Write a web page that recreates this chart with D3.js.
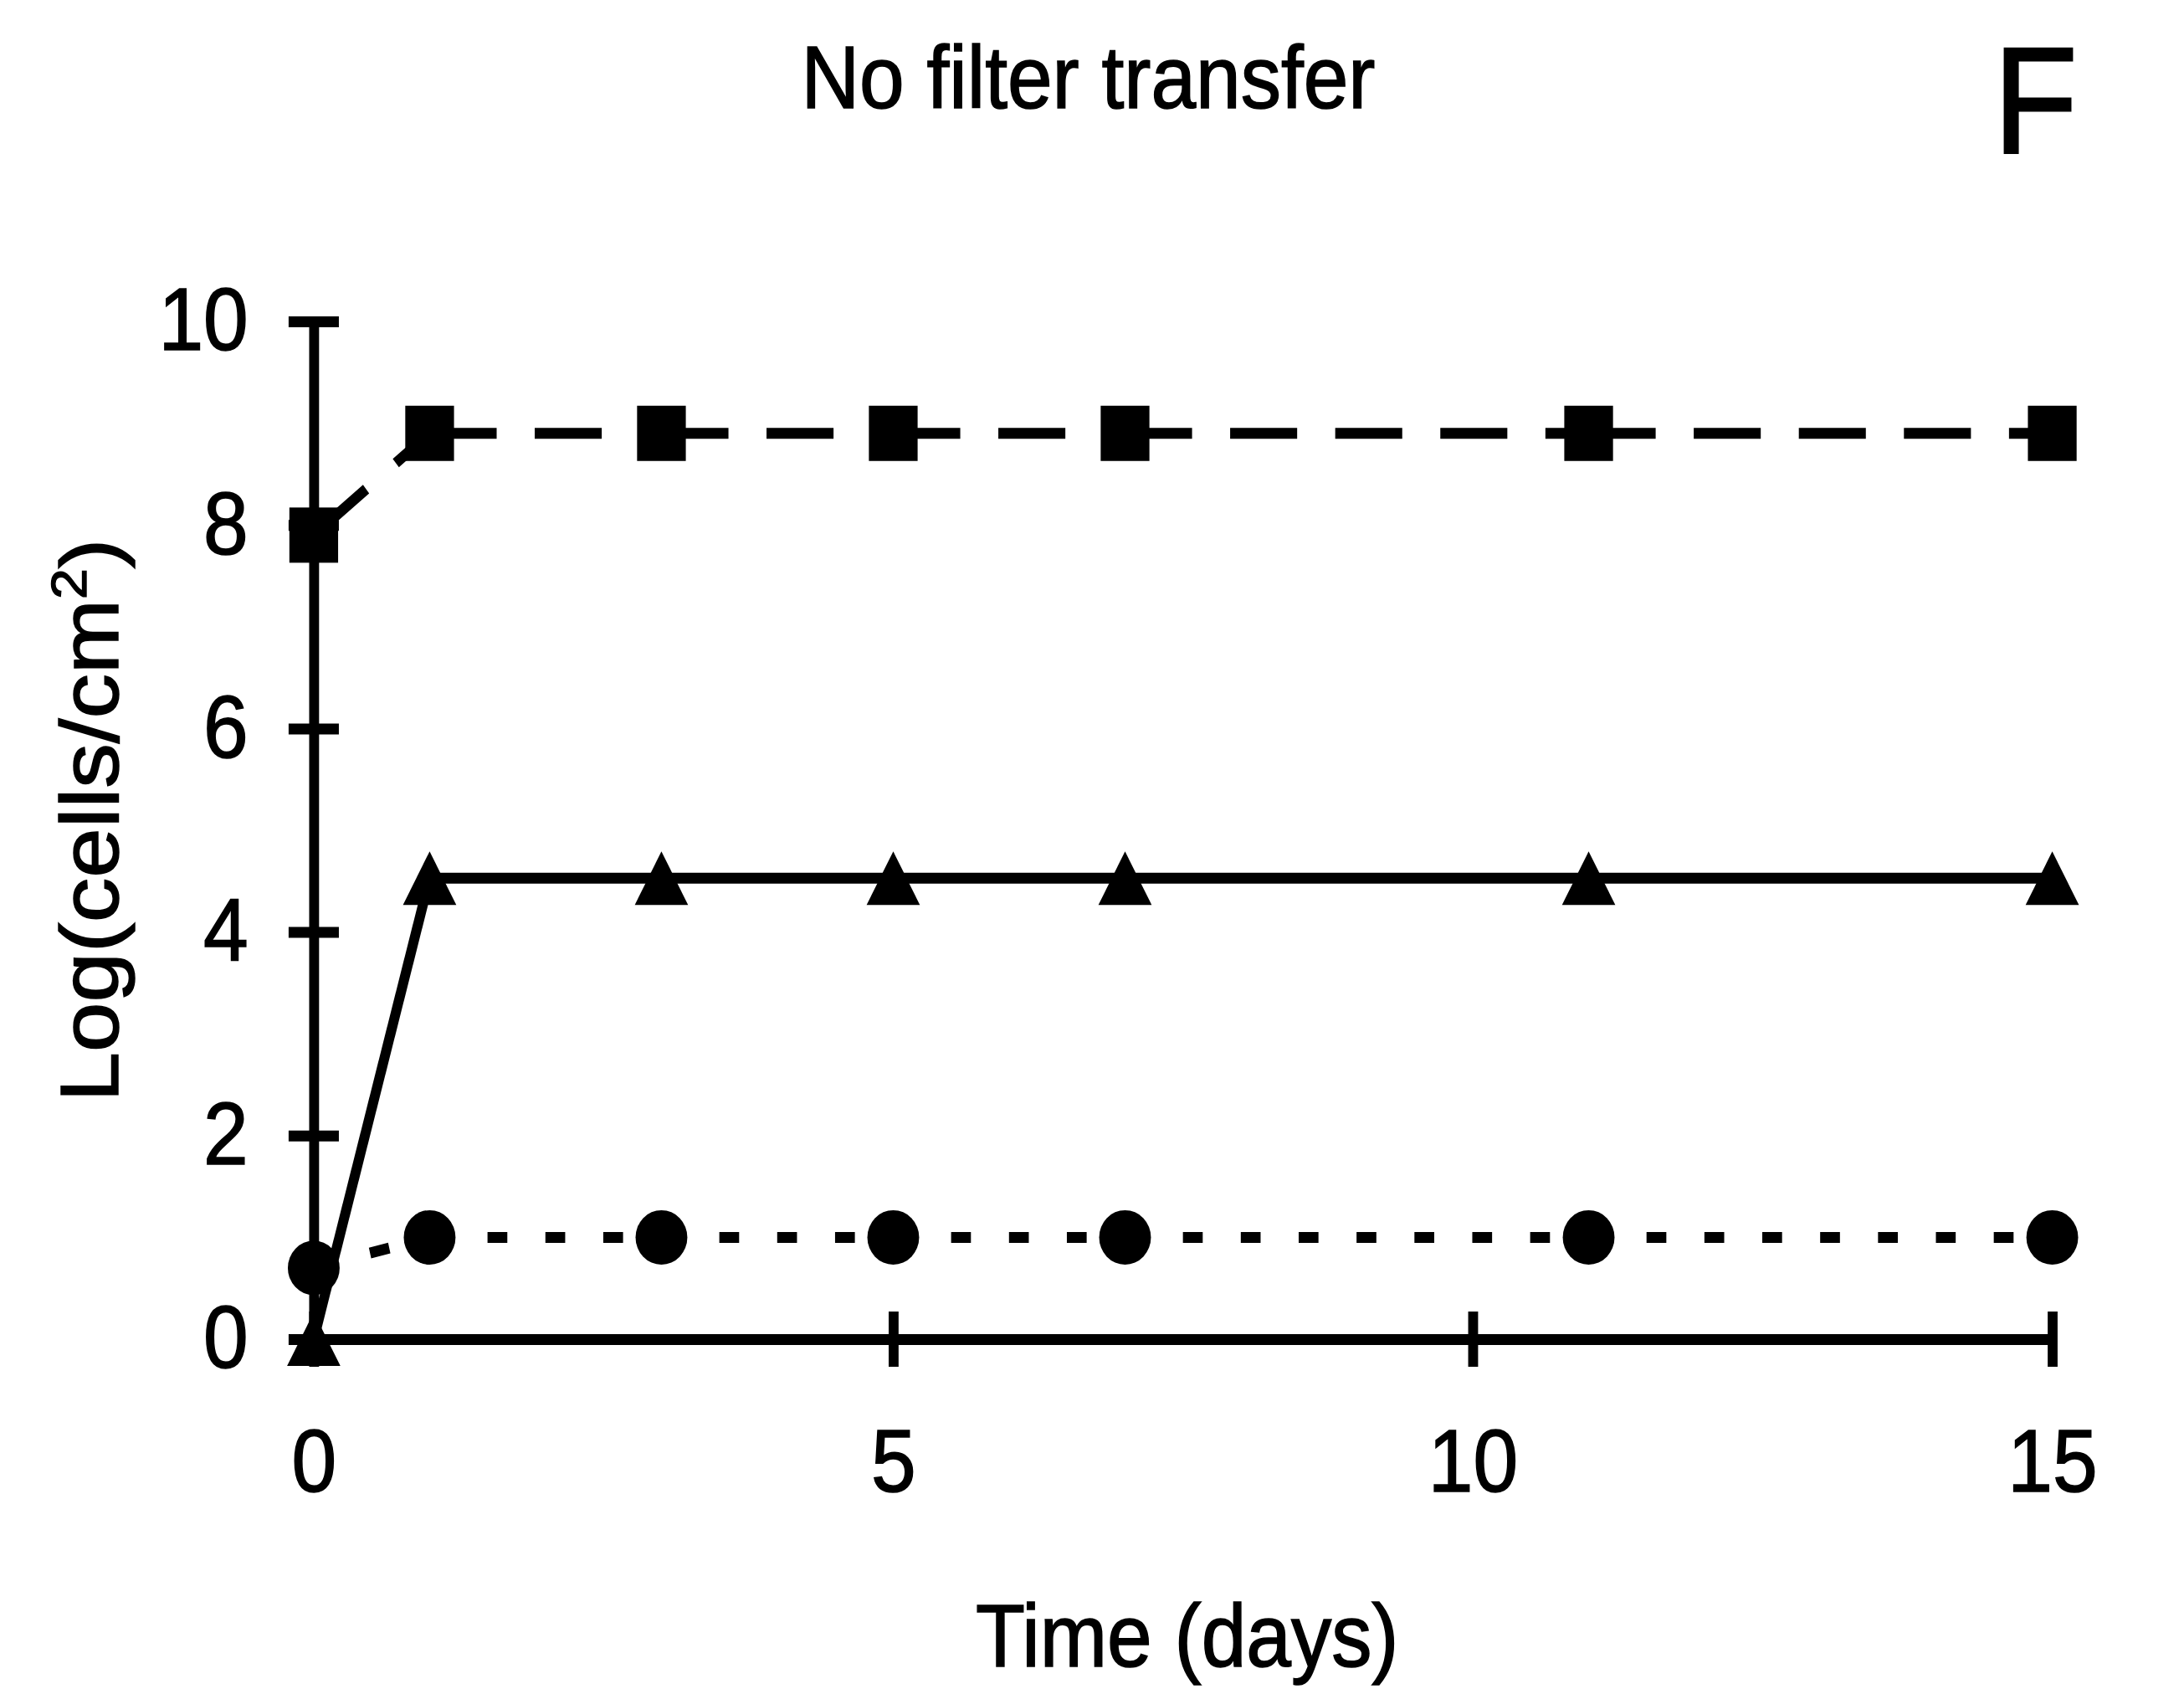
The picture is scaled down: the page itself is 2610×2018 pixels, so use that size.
<!DOCTYPE html>
<html>
<head>
<meta charset="utf-8">
<script src="https://cdn.jsdelivr.net/npm/d3@7"></script>
<style>
	body { margin: 0; background: #fff; }
	text { font-family: "Liberation Sans", Arial, sans-serif; fill: #000; stroke: #000; stroke-width: 1.6; }
</style>
</head>
<body>
<svg id="chart"></svg>
<script>
// Sampling days and the log cell counts of the three series.
var days = [0, 1, 3, 5, 7, 11, 15];
var squareValues = [7.9, 8.9, 8.9, 8.9, 8.9, 8.9, 8.9];
var triangleValues = [0, 4.53, 4.53, 4.53, 4.53, 4.53, 4.53];
var circleValues = [0.7, 1, 1, 1, 1, 1, 1];
var xTicks = [0, 5, 10, 15];
var yTicks = [0, 2, 4, 6, 8, 10];

var width = 2610, height = 2018;
// The original figure is squeezed horizontally, so draw in a wider space and let the viewBox squash it.
var viewWidth = 2868;

var svg = d3.select('#chart')
	.attr('width', width)
	.attr('height', height)
	.attr('viewBox', '0 0 ' + viewWidth + ' ' + height)
	.attr('preserveAspectRatio', 'none');

var x = d3.scaleLinear().domain([0, 15]).range([412, 2695]);
var y = d3.scaleLinear().domain([0, 10]).range([1600, 384]);

var stroke = 13;
var tickHalf = 33;

// Axes, with ticks that cross the axis line.
var yAxis = svg.append('g')
	.attr('transform', 'translate(' + x(0) + ',0)')
	.call(d3.axisLeft(y).tickValues(yTicks).tickSize(tickHalf).tickSizeOuter(0).tickPadding(53));
yAxis.selectAll('.tick line').attr('x1', tickHalf).attr('x2', -tickHalf);

var xAxis = svg.append('g')
	.attr('transform', 'translate(0,' + y(0) + ')')
	.call(d3.axisBottom(x).tickValues(xTicks).tickSize(tickHalf).tickSizeOuter(0).tickPadding(74));
xAxis.selectAll('.tick line').attr('y1', -tickHalf).attr('y2', tickHalf);

svg.selectAll('.domain, .tick line')
	.attr('stroke', '#000')
	.attr('stroke-width', stroke);
svg.selectAll('.tick text')
	.attr('font-size', 106)
	.attr('font-family', '"Liberation Sans", Arial, sans-serif')
	.attr('fill', '#000');

// Each segment is its own path so the dash pattern restarts at every point, as in the original.
var line = d3.line()
	.x(function(d) { return x(d[0]); })
	.y(function(d) { return y(d[1]); });

function drawSeries(values, dash) {
	var points = days.map(function(day, i) { return [day, values[i]]; });
	var segments = d3.pairs(points);
	svg.append('g').selectAll('path')
		.data(segments)
		.join('path')
		.attr('d', line)
		.attr('fill', 'none')
		.attr('stroke', '#000')
		.attr('stroke-width', stroke)
		.attr('stroke-dasharray', dash);
	return points;
}

var squarePoints = drawSeries(squareValues, '88,50');
var trianglePoints = drawSeries(triangleValues, null);
var circlePoints = drawSeries(circleValues, '26,50');

// Markers.
var squareSize = 64;
svg.append('g').selectAll('rect')
	.data(squarePoints)
	.join('rect')
	.attr('x', function(d) { return x(d[0]) - squareSize / 2; })
	.attr('y', function(d) { return y(d[1]) - squareSize / 2 - 1; })
	.attr('width', squareSize)
	.attr('height', squareSize + 2)
	.attr('fill', '#000');

var triW = 70, triH = 64;
svg.append('g').selectAll('path')
	.data(trianglePoints)
	.join('path')
	.attr('transform', function(d) { return 'translate(' + x(d[0]) + ',' + y(d[1]) + ')'; })
	.attr('d', 'M0,' + (-triH / 2) + 'L' + (triW / 2) + ',' + (triH / 2) + 'L' + (-triW / 2) + ',' + (triH / 2) + 'Z')
	.attr('fill', '#000');

svg.append('g').selectAll('ellipse')
	.data(circlePoints)
	.join('ellipse')
	.attr('cx', function(d) { return x(d[0]); })
	.attr('cy', function(d) { return y(d[1]); })
	.attr('rx', 34)
	.attr('ry', 32.5)
	.attr('fill', '#000');

// Titles.
svg.append('text')
	.attr('x', 1429)
	.attr('y', 129)
	.attr('text-anchor', 'middle')
	.attr('font-size', 106)
	.text('No filter transfer');

svg.append('text')
	.attr('x', 2618)
	.attr('y', 182)
	.attr('font-size', 180)
	.style('stroke-width', 3)
	.text('F');

svg.append('text')
	.attr('x', 1559)
	.attr('y', 1991)
	.attr('text-anchor', 'middle')
	.attr('font-size', 106)
	.text('Time (days)');

var yTitle = svg.append('text')
	.attr('transform', 'translate(155,980) rotate(-90)')
	.attr('text-anchor', 'middle')
	.attr('font-size', 107);
yTitle.append('tspan').text('Log(cells/cm');
yTitle.append('tspan').attr('dy', -42).attr('font-size', 66).text('2');
yTitle.append('tspan').attr('dy', 42).text(')');
</script>
</body>
</html>
